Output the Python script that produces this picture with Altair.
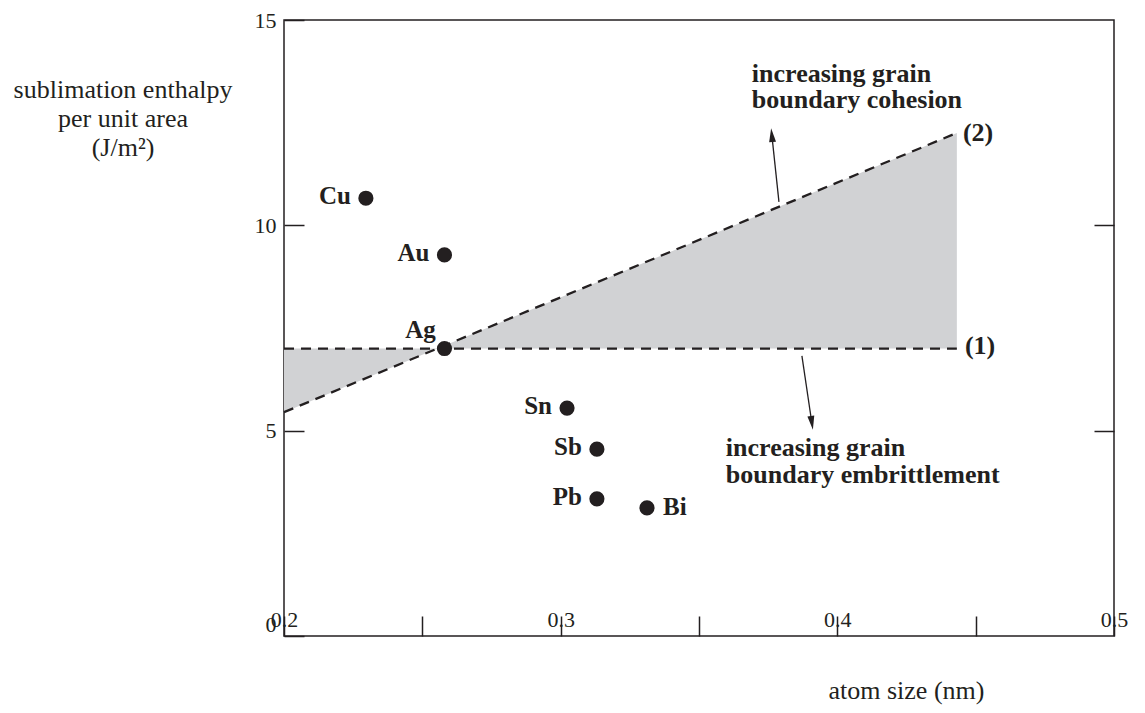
import altair as alt
import numpy as np
import pandas as pd

# ---------------- data ----------------
elements = ["Cu", "Au", "Ag", "Sn", "Sb", "Pb", "Bi"]
atom_size = [0.2296, 0.258, 0.258, 0.3023, 0.3131, 0.3131, 0.3312]
enthalpy = [10.66, 9.28, 7.0, 5.55, 4.55, 3.34, 3.12]
label_side = ["left", "left", "above", "left", "left", "left", "right"]

line_x = [0.2, 0.4432]
line1_y = [7.0, 7.0]      # criterion (1)
line2_y = [5.45, 12.25]   # criterion (2)

x_ticks = [0.2, 0.25, 0.3, 0.35, 0.4, 0.45, 0.5]
y_ticks = [0, 5, 10, 15]
y_ticks_right = [5, 10]

arrow_x = [0.3789, 0.3872]
arrow_y = [10.57, 6.82]
head_x = [0.3764, 0.3907]
head_y = [12.155, 5.23]
head_angle = [354, 171.5]

note_text = ["increasing grain", "boundary cohesion", "increasing grain",
             "boundary embrittlement", "(2)", "(1)"]
note_x = [0.3691, 0.3691, 0.3597, 0.3597, 0.4454, 0.4461]
note_y = [13.49, 12.86, 4.38, 3.73, 12.05, 6.87]

# ---------------- tables ----------------
INK = "#231f20"
FONT = "Liberation Serif"

pts = pd.DataFrame({"x": atom_size, "y": enthalpy, "el": elements, "side": label_side})

lines = pd.DataFrame({
    "x": line_x + line_x,
    "y": line1_y + line2_y,
    "s": ["1", "1", "2", "2"],
})

x_int = line_x[0] + (line1_y[0] - line2_y[0]) / (line2_y[1] - line2_y[0]) * (line_x[1] - line_x[0])
area = pd.DataFrame({
    "x": [line_x[0], x_int, line_x[1]],
    "y": [line1_y[0], line1_y[0], line1_y[1]],
    "y2": [line2_y[0], line1_y[0], line2_y[1]],
})

arrows = pd.DataFrame({"x": arrow_x, "y": arrow_y, "x2": head_x, "y2": head_y, "a": head_angle})
notes = pd.DataFrame({"x": note_x, "y": note_y, "t": note_text})

xs = alt.Scale(domain=[0.2, 0.5], nice=False, zero=False)
ys = alt.Scale(domain=[0, 15], nice=False, zero=False)

x_axis = alt.Axis(
    orient="bottom", offset=-20, domain=False, ticks=True, tickSize=20,
    tickWidth=1.5, tickColor=INK, values=x_ticks,
    labelExpr="round(datum.value*100) % 10 == 0 ? format(datum.value, '.1f') : ''",
    labelPadding=-10, labelBaseline="alphabetic", labelFont=FONT, labelFontSize=22,
    labelColor=INK, labelFlush=False, labelOverlap=False, grid=False,
    title="atom size (nm)", titleFont=FONT, titleFontSize=26, titleFontWeight="normal",
    titleColor=INK, titleX=544, titleY=82, titleAlign="left", titleBaseline="alphabetic",
)

y_axis = alt.Axis(
    orient="left", offset=-20, domain=False, ticks=True, tickSize=20,
    tickWidth=1.5, tickColor=INK, values=y_ticks,
    labelPadding=8, labelFont=FONT, labelFontSize=22, labelColor=INK,
    labelBaseline={"condition": {"test": "datum.value == 0", "value": "bottom"}, "value": "middle"},
    labelOverlap=False, grid=False,
    title=["sublimation enthalpy", "per unit area", "(J/m²)"],
    titleAngle=0, titleX=-181.5, titleY=77, titleAlign="center", titleBaseline="alphabetic",
    titleFont=FONT, titleFontSize=26, titleFontWeight="normal", titleColor=INK,
    titleLineHeight=29,
)

y_axis_right = alt.Axis(
    orient="right", offset=-20, domain=False, ticks=True, tickSize=20,
    tickWidth=1.5, tickColor=INK, values=y_ticks_right, labels=False,
    grid=False, title=None,
)

shade = alt.Chart(area).mark_area(color="#d1d2d4", opacity=1).encode(
    x=alt.X("x:Q", scale=xs, axis=None),
    y=alt.Y("y:Q", scale=ys, axis=None),
    y2="y2:Q",
)

dashed = alt.Chart(lines).mark_line(color=INK, strokeDash=[10, 7], strokeWidth=2.3).encode(
    x=alt.X("x:Q", scale=xs, axis=None),
    y=alt.Y("y:Q", scale=ys, axis=y_axis_right),
    detail="s:N",
)

points = alt.Chart(pts).mark_point(filled=True, color=INK, opacity=1, size=230).encode(
    x=alt.X("x:Q", scale=xs, axis=x_axis),
    y=alt.Y("y:Q", scale=ys, axis=y_axis),
)

def el_labels(side, **kw):
    return alt.Chart(pts).transform_filter(alt.datum.side == side).mark_text(
        font=FONT, fontSize=25, fontWeight="bold", color=INK, baseline="alphabetic", **kw
    ).encode(
        x=alt.X("x:Q", scale=xs, axis=None),
        y=alt.Y("y:Q", scale=ys, axis=None),
        text="el:N",
    )

lab_left = el_labels("left", align="right", dx=-15, dy=6)
lab_above = el_labels("above", align="center", dx=-24, dy=-11)
lab_right = el_labels("right", align="left", dx=16, dy=7)

shafts = alt.Chart(arrows).mark_rule(color=INK, strokeWidth=1.3).encode(
    x=alt.X("x:Q", scale=xs, axis=None),
    y=alt.Y("y:Q", scale=ys, axis=None),
    x2="x2:Q", y2="y2:Q",
)

heads = alt.Chart(arrows).mark_point(
    shape="M0,-1L0.4,0.6L-0.4,0.6Z", filled=True, color=INK, opacity=1, size=300
).encode(
    x=alt.X("x2:Q", scale=xs, axis=None),
    y=alt.Y("y2:Q", scale=ys, axis=None),
    angle=alt.Angle("a:Q", scale=None),
)

note_marks = alt.Chart(notes).mark_text(
    font=FONT, fontSize=26, fontWeight="bold", color=INK, align="left", baseline="alphabetic"
).encode(
    x=alt.X("x:Q", scale=xs, axis=None),
    y=alt.Y("y:Q", scale=ys, axis=None),
    text="t:N",
)

chart = alt.layer(
    shade, dashed, points, lab_left, lab_above, lab_right, shafts, heads, note_marks
).resolve_axis(x="independent", y="independent").properties(
    width=830, height=616,
    autosize=alt.AutoSizeParams(type="none"),
    padding={"left": 276, "top": 12, "right": 20, "bottom": 69},
    background="white",
).configure_view(stroke=INK, strokeWidth=1.5)

chart.save("out.html", embed_options={"renderer": "svg", "actions": False})
